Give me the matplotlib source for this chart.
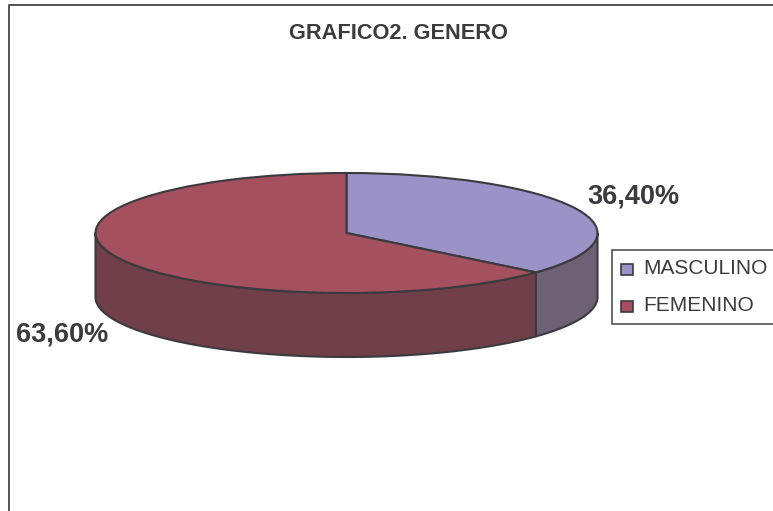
import numpy as np
import matplotlib
matplotlib.use("Agg")
import matplotlib.pyplot as plt
from matplotlib.patches import Rectangle

categories = ["MASCULINO", "FEMENINO"]
values = [36.4, 63.6]
value_labels = ["36,40%", "63,60%"]
title = "GRAFICO2. GENERO"

W, H = 773, 511
TOP = ["#9B93C8", "#A5505F"]
SIDE = ["#6E6176", "#713F49"]
EDGE = "#3A3A3F"
TXT = "#3A3A3F"

plt.rcParams["font.family"] = ["Liberation Sans", "DejaVu Sans"]
fig = plt.figure(figsize=(W / 100, H / 100), dpi=100, facecolor="white")


def px(x, y):
    return x / W, 1 - y / H


# outer chart frame (open toward the right / bottom edges)
fig.add_artist(plt.Line2D([9 / W, 9 / W, 1], [0, 1 - 5.5 / H, 1 - 5.5 / H],
                          color="#444444", lw=1.3, transform=fig.transFigure))

# pie axes: unit ellipse mapped on the picture
cx, cy, rx, ry, depth = 346.5, 233, 251, 60, 64
ax = fig.add_axes([(cx - rx) / W, 1 - (cy + ry) / H, 2 * rx / W, 2 * ry / H])
wedges, _ = ax.pie(values, startangle=90, counterclock=False, colors=TOP, radius=1,
                   wedgeprops=dict(edgecolor=EDGE, linewidth=1.5, zorder=5))
ax.set_aspect("auto")
ax.set_xlim(-1, 1)
ax.set_ylim(-1, 1)
ax.set_clip_on(False)
for w in wedges:
    w.set_clip_on(False)

# side walls, visible only on the front half of the ellipse
d = depth / ry
start = 90.0
for val, col in zip(values, SIDE):
    end = start - 360 * val / sum(values)
    a0, a1 = max(end, -180), min(start, 0)
    if a1 > a0:
        th = np.radians(np.linspace(a0, a1, 200))
        xs, ys = np.cos(th), np.sin(th)
        ax.fill(np.r_[xs, xs[::-1]], np.r_[ys, ys[::-1] - d], facecolor=col,
                edgecolor=EDGE, linewidth=1.5, zorder=2, clip_on=False,
                joinstyle="round")
    start = end

# texts
fig.text(*px(398, 33.5), title, ha="center", va="center", fontsize=15.7, fontweight="bold", color=TXT)
fig.text(*px(633, 197), value_labels[0], ha="center", va="center", fontsize=19.5, fontweight="bold", color=TXT)
fig.text(*px(62, 334), value_labels[1], ha="center", va="center", fontsize=19.5, fontweight="bold", color=TXT)

# legend box (runs into the right edge of the picture)
fig.add_artist(Rectangle(px(612, 324), (W + 5 - 612) / W, 74 / H, transform=fig.transFigure,
                         facecolor="white", edgecolor="#444444", linewidth=1.1, zorder=6))
for lab, col, yy, ty in zip(categories, TOP, [269, 306], [268, 305]):
    fig.add_artist(Rectangle(px(620.5, yy + 5.5), 12 / W, 11 / H, transform=fig.transFigure,
                             facecolor=col, edgecolor=EDGE, linewidth=1.2, zorder=7))
    fig.text(*px(643, ty), lab, ha="left", va="center", fontsize=15, color=TXT, zorder=8)

fig.savefig("out.png", dpi=100, facecolor="white")
